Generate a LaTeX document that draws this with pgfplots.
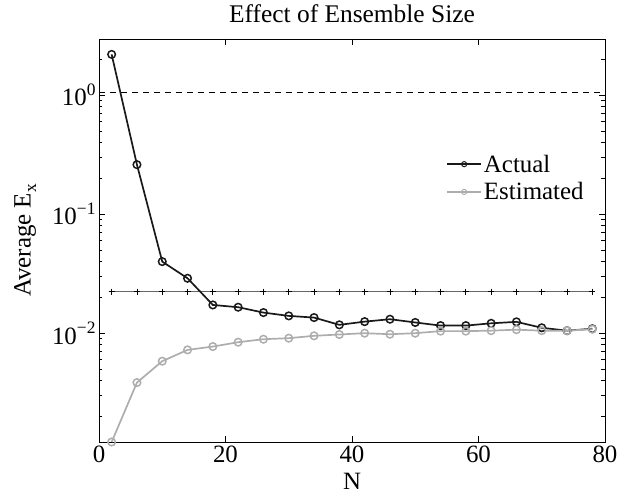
\documentclass[border=0pt]{standalone}
\usepackage{fontspec}
\setmainfont{Liberation Serif}
\usepackage{pgfplots}
\pgfplotsset{compat=1.18}
\newcommand\sups[1]{\raisebox{0.42em}{\fontsize{17.5}{17.5}\selectfont #1}}
\newcommand\subs[1]{\raisebox{-0.22em}{\fontsize{17.5}{17.5}\selectfont #1}}
\definecolor{estgray}{gray}{0.68}
\definecolor{refgray}{gray}{0.4}
\begin{document}
\begin{tikzpicture}
\begin{axis}[
  name=ax,
  scale only axis,
  width=506bp, height=403bp,
  ymode=log,
  xmin=0, xmax=80,
  ymin=0.00122, ymax=2.95,
  xtick={0,20,40,60,80},
  ytick={0.01,0.1,1},
  yticklabels={10\sups{−2},10\sups{−1},10\sups{0}},
  minor ytick={0.002,0.003,0.004,0.005,0.006,0.007,0.008,0.009,0.02,0.03,0.04,0.05,0.06,0.07,0.08,0.09,0.2,0.3,0.4,0.5,0.6,0.7,0.8,0.9,2},
  /pgf/number format/assume math mode=true,
  tick label style={font=\fontsize{25}{29}\selectfont},
  major tick length=6bp, minor tick length=3.5bp,
  tick style={black, line width=0.6pt},
  axis line style={line width=0.9pt},
  title={Effect of Ensemble Size},
  title style={at={(rel axis cs:0.5,1.048)}, anchor=center, font=\fontsize{25.5}{29}\selectfont},
  xlabel={N},
  xlabel style={at={(rel axis cs:0.5,-0.097)}, anchor=center, font=\fontsize{25}{29}\selectfont},
  ylabel={Average E\subs{x}},
  ylabel style={at={(rel axis cs:-0.146,0.5)}, anchor=center, rotate=0, font=\fontsize{25}{29}\selectfont},
  legend style={draw=none, fill=none, at={(rel axis cs:0.686,0.655)}, anchor=west,
    font=\fontsize{25}{29}\selectfont, row sep=5bp, inner sep=0pt},
  legend cell align=left,
  legend image code/.code={\draw[mark repeat=2,mark phase=2,mark size=2.6pt,mark options={line width=1pt}] plot coordinates {(0bp,0bp)(17bp,0bp)(34bp,0bp)};},
]
% reference line with plus markers
\addplot[refgray, line width=1.2pt, mark=+, mark size=3pt, mark options={black, line width=0.8pt}, forget plot] coordinates {
(2,0.0223)(6,0.0223)(10,0.0223)(14,0.0223)(18,0.0223)(22,0.0223)(26,0.0223)(30,0.0223)(34,0.0223)(38,0.0223)
(42,0.0223)(46,0.0223)(50,0.0223)(54,0.0223)(58,0.0223)(62,0.0223)(66,0.0223)(70,0.0223)(74,0.0223)(78,0.0223)};
% dashed line
\addplot[black, line width=0.7pt, dash pattern=on 6bp off 5bp, forget plot] coordinates {(0,1.045)(80,1.045)};
\addplot[black!90, line width=1.7pt, mark=o, mark size=3.8pt, mark options={line width=1.5pt}] coordinates {
(2,2.19)(6,0.260)(10,0.0399)(14,0.0289)(18,0.01726)(22,0.01652)(26,0.01489)(30,0.01397)(34,0.01352)(38,0.01175)
(42,0.0125)(46,0.0131)(50,0.0123)(54,0.01158)(58,0.01158)(62,0.0121)(66,0.01245)(70,0.0111)(74,0.0105)(78,0.0109)};
\addlegendentry{Actual}
\addplot[estgray, line width=1.7pt, mark=o, mark size=3.8pt, mark options={line width=1.5pt}] coordinates {
(2,0.00122)(6,0.00385)(10,0.00582)(14,0.00724)(18,0.00772)(22,0.0084)(26,0.0089)(30,0.00908)(34,0.0095)(38,0.00975)
(42,0.0100)(46,0.0098)(50,0.0100)(54,0.0104)(58,0.0104)(62,0.0105)(66,0.0107)(70,0.0105)(74,0.0105)(78,0.0108)};
\addlegendentry{Estimated}
\end{axis}
\pgfresetboundingbox
\path (ax.south west) ++(-99bp,-52bp) rectangle ++(632bp,494bp);
\end{tikzpicture}
\end{document}
